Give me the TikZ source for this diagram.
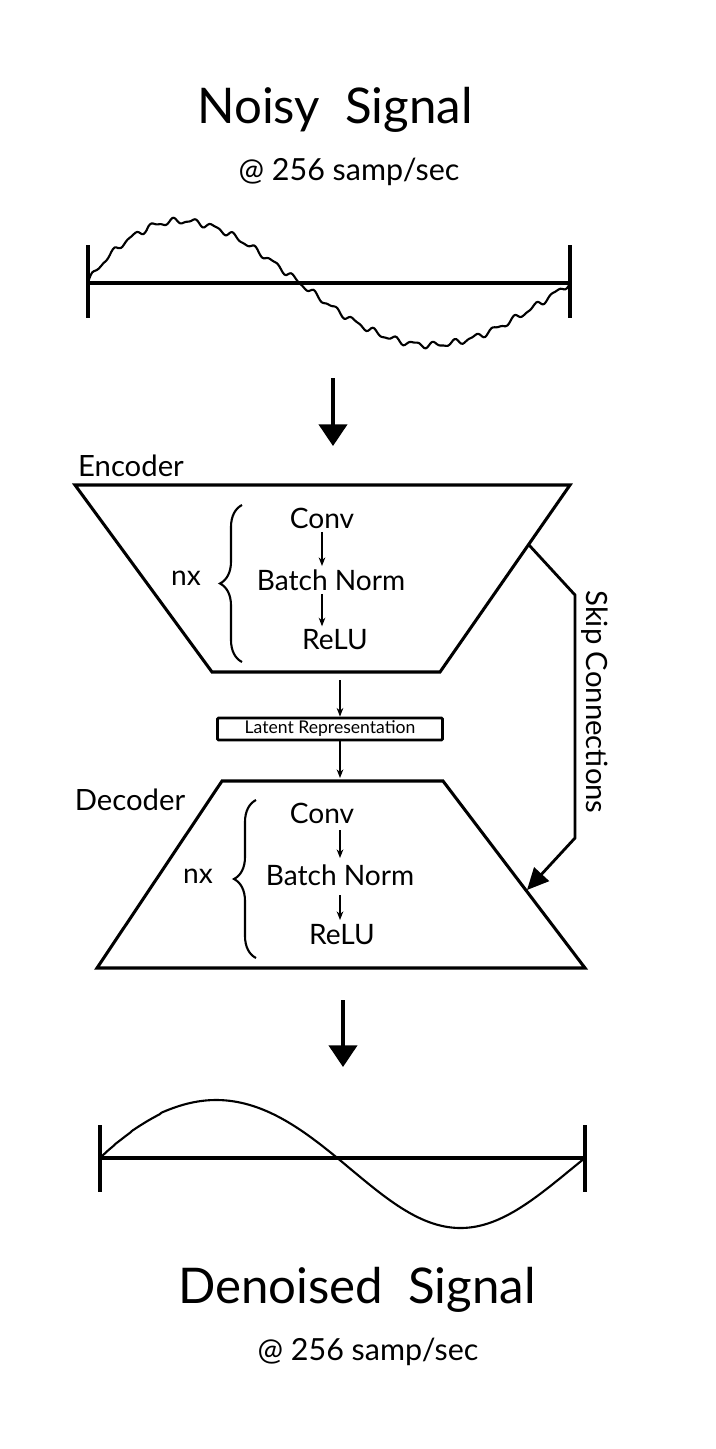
\documentclass[tikz,border=0pt]{standalone}
\usepackage{fontspec}
\setmainfont{Lato}
\usepackage{tikz}
\usetikzlibrary{arrows.meta,decorations.pathreplacing,positioning}

\begin{document}
\begin{tikzpicture}[x=0.03cm,y=-0.03cm,line width=2pt,
  big arrow/.style={-{Triangle[length=6.5mm,width=8.5mm]},line width=2.6pt},
  small arrow/.style={-{Stealth[length=2.6mm,width=2mm]},line width=1pt},
  layer node/.style={font=\fontsize{24}{28}\selectfont,inner sep=2pt},
  side label/.style={font=\fontsize{25}{29}\selectfont},
  title node/.style={font=\fontsize{42}{48}\selectfont},
  rate node/.style={font=\fontsize{26}{30}\selectfont},
  shape line/.style={line width=2.6pt,line join=miter},
  wave line/.style={line width=1.8pt,line join=round},
  group brace/.style={decorate,decoration={brace,amplitude=0.66cm},line width=1.8pt}]

  \useasboundingbox (0,0) rectangle (715,1449);

  % input signal
  \node[title node] (noisy) at (335,110) {Noisy\ \ Signal};
  \node[rate node]  (rate1) at (349,172) {@ 256 samp/sec};

  \draw[shape line] (88,245) -- (88,318);
  \draw[shape line] (570,245) -- (570,318);
  \draw[shape line] (88,283) -- (570,283);
  \draw[wave line] plot[domain=0.002:1,samples=300]
    ({88+482*\x},{283-62*sin(360*\x^0.844)-2.5*sin(360*24*\x)-1.2*sin(360*41*\x)});

  \coordinate (in top) at (333,378);
  \coordinate (in bot) at (333,446);
  \draw[big arrow] (in top) -- (in bot);

  % encoder
  \draw[shape line] (75,485) -- (570,485) -- (440,672) -- (212,672) -- cycle;
  \node[side label] (enc) at (131,466) {Encoder};
  \node[layer node] (conv1) at (322,518) {Conv};
  \node[layer node] (bn1)   at (331,580) {Batch Norm};
  \node[layer node] (relu1) at (335,640) {ReLU};
  \draw[group brace] (242,662) -- (242,505);
  \node[layer node] (nx1) at (186,578) {nx};

  \path[small arrow]
    (conv1.south) edge (conv1.south |- bn1.north)
    (conv1.south |- bn1.south) edge (conv1.south |- relu1.north);

  % latent
  \coordinate (enc out) at (340,680);
  \node[draw,line width=2.4pt,rounded corners=1pt,minimum width=6.75cm,minimum height=0.66cm,
    inner sep=0pt,font=\fontsize{15}{17}\selectfont] (latent) at (330,729) {Latent Representation};
  \coordinate (dec in) at (340,778);
  \draw[small arrow] (enc out) -- (enc out |- latent.north);
  \draw[small arrow] (dec in |- latent.south) -- (dec in);

  % decoder
  \draw[shape line] (222,781) -- (443,781) -- (585,968) -- (97,968) -- cycle;
  \node[side label] (dec) at (130,800) {Decoder};
  \node[layer node] (conv2) at (322,813) {Conv};
  \node[layer node] (bn2)   at (340,875) {Batch Norm};
  \node[layer node] (relu2) at (342,935) {ReLU};
  \draw[group brace] (256,958) -- (256,800);
  \node[layer node] (nx2) at (198,876) {nx};

  \path[small arrow]
    (340,830) edge (340,858)
    (340,895) edge (340,920);

  % skip connections
  \coordinate (skip out) at (529,545);
  \coordinate (skip in)  at (527,890);
  \draw[line width=2.4pt,line join=miter,-{Triangle[length=6.5mm,width=6mm]}]
    (skip out) -- (575,595) -- (575,838) -- (skip in);
  \node[side label,rotate=-90] (skip) at (595,702) {Skip Connections};

  % output signal
  \coordinate (out top) at (343,1000);
  \coordinate (out bot) at (343,1067);
  \draw[big arrow] (out top) -- (out bot);

  \draw[shape line] (100,1125) -- (100,1192);
  \draw[shape line] (585,1125) -- (585,1192);
  \draw[shape line] (100,1158) -- (585,1158);
  \draw[wave line] plot[domain=0.002:1,samples=200]
    ({100+485*\x},{1158-(64-6*sin(360*\x^0.97))*sin(360*\x^0.97)});

  \node[title node] (denoised) at (357,1290) {Denoised\ \ Signal};
  \node[rate node]  (rate2)    at (368,1352) {@ 256 samp/sec};
\end{tikzpicture}
\end{document}
